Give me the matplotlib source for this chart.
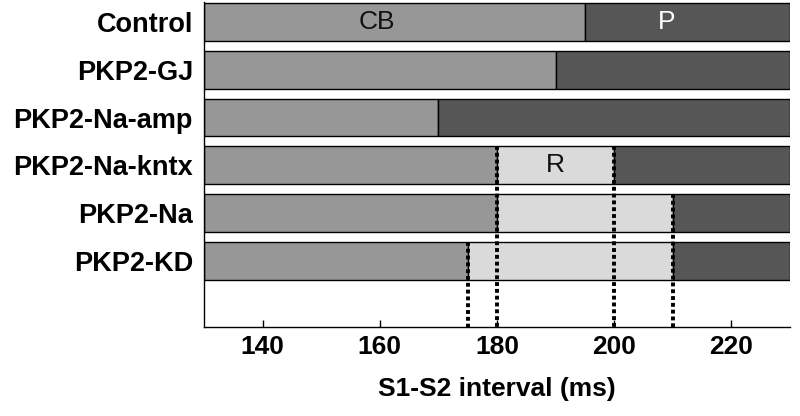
import matplotlib.pyplot as plt
import numpy as np

plt.rcParams['font.family'] = ['Liberation Sans', 'DejaVu Sans']

groups = ['Control', 'PKP2-GJ', 'PKP2-Na-amp', 'PKP2-Na-kntx', 'PKP2-Na', 'PKP2-KD']
cb_end = [195, 190, 170, 180, 180, 175]   # end of CB region
r_end = [195, 190, 170, 200, 210, 210]    # end of R region (start of P)
x_start = 130
x_stop = 230

# dotted marker lines: (x value, row where the line starts)
dot_x = [180, 200, 210, 175]
dot_row = [3, 3, 4, 5]

cb_col = '#979797'
r_col = '#dadada'
p_col = '#565656'

fig = plt.figure(figsize=(8, 4.16), dpi=100)
ax = fig.add_axes([0.255, 0.214, 0.7325, 0.781])

ypos = np.arange(len(groups))
h = 0.79
cb_end = np.array(cb_end)
r_end = np.array(r_end)

ax.barh(ypos, cb_end - x_start, left=x_start, height=h, color=cb_col,
        edgecolor='black', linewidth=1)
rw = r_end - cb_end
m = rw > 0
ax.barh(ypos[m], rw[m], left=cb_end[m], height=h, color=r_col,
        edgecolor='black', linewidth=1)
ax.barh(ypos, x_stop - r_end, left=r_end, height=h, color=p_col,
        edgecolor='black', linewidth=1)

ylo = 6.39
for xv, row in zip(dot_x, dot_row):
    ax.vlines(xv, row - h / 2, ylo, colors='black', linewidth=2.8,
              linestyles=(0, (1, 0.75)), zorder=5)

ax.text(159.5, 0, 'CB', ha='center', va='center', fontsize=19, color='#111111')
ax.text(209, 0, 'P', ha='center', va='center', fontsize=19, color='white')
ax.text(190, 3, 'R', ha='center', va='center', fontsize=19, color='#111111')

ax.set_xlim(x_start, x_stop)
ax.set_ylim(ylo, -0.42)
ax.set_yticks(ypos)
ax.set_yticklabels(groups, fontsize=19.5, fontweight='bold')
ax.tick_params(axis='y', length=0, pad=8)
ax.set_xticks([140, 160, 180, 200, 220])
ax.tick_params(axis='x', direction='in', length=5, width=1, labelsize=19, pad=6)
for lab in ax.get_xticklabels():
    lab.set_fontweight('bold')
ax.set_xlabel('S1-S2 interval (ms)', fontsize=19, fontweight='bold', labelpad=13)

ax.spines['top'].set_visible(False)
ax.spines['right'].set_visible(False)
ax.spines['left'].set_linewidth(1)
ax.spines['bottom'].set_linewidth(1)

fig.savefig('out.png', dpi=100)
